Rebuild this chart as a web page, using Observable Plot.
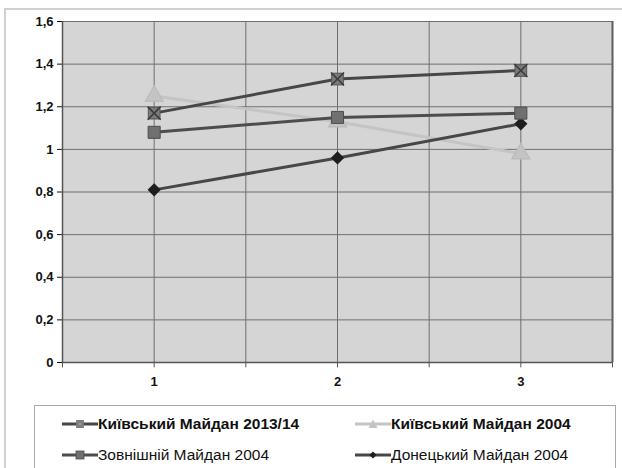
<!DOCTYPE html>
<html>
<head>
<meta charset="utf-8">
<script src="https://cdn.jsdelivr.net/npm/d3@7"></script>
<script src="https://cdn.jsdelivr.net/npm/@observablehq/plot@0.6"></script>
<style>
  html, body { margin: 0; padding: 0; background: #fff; width: 622px; height: 468px; overflow: hidden; font-family: "Liberation Sans", Arial, sans-serif; }
  #frame { position: absolute; left: 4px; top: 8px; width: 640px; height: 500px; border: 2px solid #d0d0d0; box-sizing: border-box; }
  #chart { position: absolute; left: 0; top: 0; }
  #legend { position: absolute; left: 34px; top: 405px; width: 582px; height: 80px; border: 1.5px solid #a8a8a8; box-sizing: border-box; background: #fff; }
  .item { position: absolute; display: flex; align-items: center; font-size: 15.5px; color: #111; white-space: nowrap; }
  .item svg { display: block; }
</style>
</head>
<body>
<div id="frame"></div>
<div id="chart"></div>
<div id="legend"></div>
<script>
const categories = [1, 2, 3];
const seriesNames = ["Київський Майдан 2013/14", "Київський Майдан 2004", "Зовнішній Майдан 2004", "Донецький Майдан 2004"];
const kyiv2013 = [1.17, 1.33, 1.37];
const kyiv2004 = [1.25, 1.13, 0.98];
const outer2004 = [1.08, 1.15, 1.17];
const donetsk2004 = [0.81, 0.96, 1.12];
const yTicks = [0, 0.2, 0.4, 0.6, 0.8, 1, 1.2, 1.4, 1.6];
const xGrid = [0.5, 1, 1.5, 2, 2.5, 3, 3.5];

const toRows = (vals) => categories.map((c, i) => ({x: c, y: vals[i]}));
const dK13 = toRows(kyiv2013), dK04 = toRows(kyiv2004), dO04 = toRows(outer2004), dD04 = toRows(donetsk2004);

const fmt = d => String(d).replace(".", ",");

const chart = Plot.plot({
  width: 622,
  height: 400,
  marginLeft: 62,
  marginRight: 10,
  marginTop: 21,
  marginBottom: 38,
  x: {domain: [0.5, 3.5], ticks: categories, tickFormat: d => d, tickSize: 0, tickPadding: 14, label: null},
  y: {domain: [0, 1.6], ticks: yTicks, tickFormat: fmt, tickSize: 5, tickPadding: 4, label: null},
  style: {fontFamily: "'Liberation Sans', Arial, sans-serif", fontSize: "13px", fontWeight: "bold", color: "#111", background: "transparent"},
  marks: [
    Plot.frame({fill: "#d5d5d5", stroke: null}),
    Plot.ruleY(yTicks, {stroke: "#6f6f6f", strokeWidth: 1}),
    Plot.ruleX(xGrid, {stroke: "#6f6f6f", strokeWidth: 1}),
    Plot.ruleX(xGrid, {x: d => d, y1: 0, y2: -0.025, stroke: "#555", strokeWidth: 1}),
    Plot.ruleX([3.5], {stroke: "#5e5e5e", strokeWidth: 2}),
    Plot.ruleX([0.5], {stroke: "#555", strokeWidth: 1.5}),
    Plot.ruleY([0], {stroke: "#555", strokeWidth: 1.5}),
    // Київський Майдан 2004 (light)
    Plot.line(dK04, {x: "x", y: "y", stroke: "#c4c4c4", strokeWidth: 3}),
    Plot.dot(dK04, {x: "x", y: "y", symbol: "triangle", r: 6.5, fill: "#c4c4c4", stroke: "#bcbcbc"}),
    // Донецький
    Plot.line(dD04, {x: "x", y: "y", stroke: "#474747", strokeWidth: 3}),
    Plot.dot(dD04, {x: "x", y: "y", symbol: "diamond2", r: 5, fill: "#1e1e1e", stroke: "#1e1e1e"}),
    // Зовнішній
    Plot.line(dO04, {x: "x", y: "y", stroke: "#4d4d4d", strokeWidth: 3}),
    Plot.dot(dO04, {x: "x", y: "y", symbol: "square", r: 6.8, fill: "#707070", stroke: "#4d4d4d", strokeWidth: 1}),
    // Київський 2013/14
    Plot.line(dK13, {x: "x", y: "y", stroke: "#474747", strokeWidth: 3}),
    Plot.dot(dK13, {x: "x", y: "y", symbol: "square", r: 6.6, fill: "#7a7a7a", stroke: "#555", strokeWidth: 1}),
    Plot.dot(dK13, {x: "x", y: "y", symbol: "times", r: 6, stroke: "#3a3a3a", strokeWidth: 1.5})
  ]
});
document.getElementById("chart").appendChild(chart);

// Legend
const legend = document.getElementById("legend");
const legendSpec = [
  {name: seriesNames[0], left: 27, top: 9, bold: true, line: "#474747", marker: "xsq"},
  {name: seriesNames[1], left: 320, top: 9, bold: true, line: "#c4c4c4", marker: "tri"},
  {name: seriesNames[2], left: 27, top: 40, bold: false, line: "#4d4d4d", marker: "sq"},
  {name: seriesNames[3], left: 320, top: 40, bold: false, line: "#474747", marker: "dia"}
];
legendSpec.forEach(s => {
  const div = document.createElement("div");
  div.className = "item";
  div.style.left = s.left + "px";
  div.style.top = s.top + "px";
  div.style.fontWeight = s.bold ? "bold" : "normal";
  let m = "";
  if (s.marker === "xsq") m = `<rect x="14" y="4" width="8" height="8" fill="#7a7a7a"/><path d="M14.5 4.5 L21.5 11.5 M21.5 4.5 L14.5 11.5" stroke="#999" stroke-width="1"/>`;
  if (s.marker === "tri") m = `<path d="M18 3.5 L22.5 12 L13.5 12 Z" fill="#c4c4c4"/>`;
  if (s.marker === "sq") m = `<rect x="14" y="4" width="8" height="8" fill="#707070" stroke="#4d4d4d" stroke-width="0.8"/>`;
  if (s.marker === "dia") m = `<path d="M18 4.5 L21.5 8 L18 11.5 L14.5 8 Z" fill="#1e1e1e"/>`;
  div.innerHTML = `<svg width="36" height="16"><line x1="0" y1="8" x2="36" y2="8" stroke="${s.line}" stroke-width="3"/>${m}</svg><span>${s.name}</span>`;
  legend.appendChild(div);
});
</script>
</body>
</html>
